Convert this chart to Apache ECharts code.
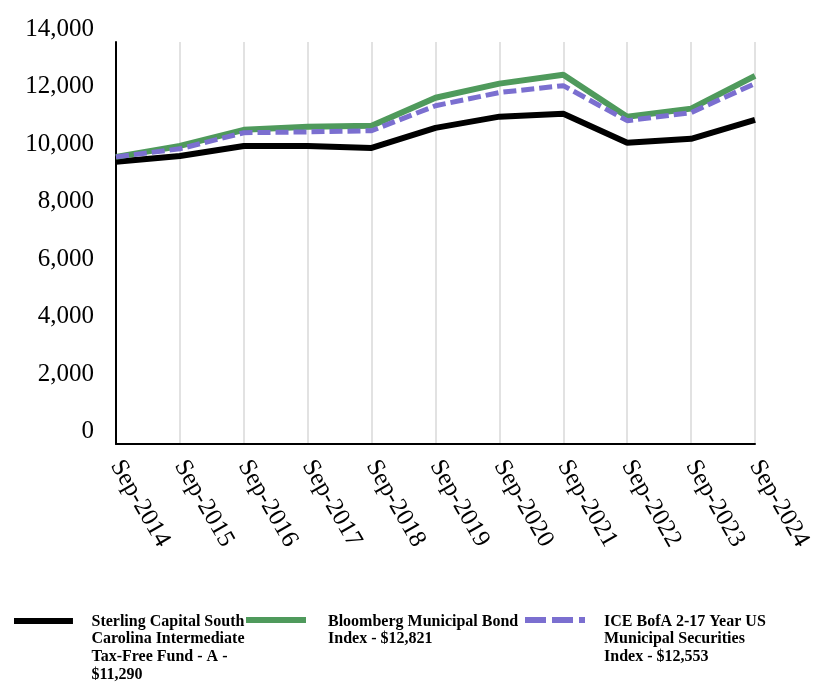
<!DOCTYPE html>
<html>
<head>
<meta charset="utf-8">
<script src="https://cdn.jsdelivr.net/npm/echarts@6/dist/echarts.min.js"></script>
<style>html,body{margin:0;padding:0;background:#fff;}#c{width:828px;height:684px;}</style>
</head>
<body>
<div id="c"></div>
<script>
const categories = ['Sep-2014','Sep-2015','Sep-2016','Sep-2017','Sep-2018','Sep-2019','Sep-2020','Sep-2021','Sep-2022','Sep-2023','Sep-2024'];
const fundName = 'Sterling Capital South Carolina Intermediate Tax-Free Fund - A - $11,290';
const fundValues = [9830, 10030, 10380, 10380, 10310, 11010, 11400, 11500, 10490, 10630, 11290];
const bbgName = 'Bloomberg Municipal Bond Index - $12,821';
const bbgValues = [10000, 10380, 10940, 11050, 11080, 12060, 12550, 12860, 11400, 11680, 12821];
const iceName = 'ICE BofA 2-17 Year US Municipal Securities Index - $12,553';
const iceValues = [10000, 10280, 10840, 10870, 10910, 11780, 12240, 12480, 11260, 11540, 12553];
const legendLines = {};
legendLines[fundName] = ['Sterling Capital South', 'Carolina Intermediate', 'Tax-Free Fund - A -', '$11,290'];
legendLines[bbgName] = ['Bloomberg Municipal Bond', 'Index - $12,821'];
legendLines[iceName] = ['ICE BofA 2-17 Year US', 'Municipal Securities', 'Index - $12,553'];

const FONT = "'Liberation Serif', 'Times New Roman', serif";
const LH = 17.7;
const H = 60;
const TEXT_Y = 621.5;
const ICON_Y = 620;
const chart = echarts.init(document.getElementById('c'), null, {renderer: 'canvas'});

function legendAt(name, left, padLeft, dashed) {
  const n = legendLines[name].length;
  const off = (n - 1) * LH / 2;
  const overflow = Math.max(0, (n * LH - H) / 2);
  const top = TEXT_Y - H / 2 + off;
  const c = ICON_Y - top;
  const y1 = (c - 3).toFixed(2), y2 = (c + 3).toFixed(2);
  let bar;
  if (dashed) {
    bar = `M0,${y1}H21V${y2}H0Z M27,${y1}H48V${y2}H27Z M54,${y1}H60V${y2}H54Z`;
  } else {
    bar = `M0,${y1}H60V${y2}H0Z`;
  }
  return {
    data: [name], left: left, top: top - overflow, padding: 0,
    itemWidth: 60, itemHeight: H, selectedMode: false,
    icon: 'path://M0,0 ' + bar + ' M60,60',
    itemStyle: {borderWidth: 0},
    formatter: nm => legendLines[nm].join('\n'),
    textStyle: {fontFamily: FONT, fontWeight: 'bold', fontSize: 16, color: '#000',
      lineHeight: LH, padding: [0, 0, 0, padLeft]}
  };
}

chart.setOption({
  animation: false,
  backgroundColor: '#fff',
  grid: {left: 116, right: 73, top: 42, bottom: 240, containLabel: false},
  legend: [legendAt(fundName, 14, 13, false), legendAt(bbgName, 246, 17, false), legendAt(iceName, 525, 14, true)],
  xAxis: {
    type: 'category', data: categories, boundaryGap: false,
    axisLine: {lineStyle: {color: '#000', width: 2}},
    axisTick: {show: false},
    splitLine: {show: true, lineStyle: {color: '#d9d9d9', width: 1.5}},
    axisLabel: {rotate: -60, margin: 18, fontFamily: FONT, fontSize: 25, color: '#000'}
  },
  yAxis: {
    type: 'value', min: 0, max: 14000, interval: 2000,
    axisLine: {show: true, lineStyle: {color: '#000', width: 2}},
    axisTick: {show: false},
    splitLine: {show: false},
    axisLabel: {fontFamily: FONT, fontSize: 25, color: '#000', margin: 22, verticalAlign: 'bottom',
      formatter: v => v.toLocaleString('en-US')}
  },
  series: [
    {name: fundName, type: 'line', data: fundValues, symbol: 'none',
      lineStyle: {color: '#000', width: 6}, itemStyle: {color: '#000'}},
    {name: bbgName, type: 'line', data: bbgValues, symbol: 'none',
      lineStyle: {color: '#4f9a5c', width: 6}, itemStyle: {color: '#4f9a5c'}},
    {name: iceName, type: 'line', data: iceValues, symbol: 'none',
      lineStyle: {color: '#7b6fd0', width: 5, type: [13, 5]}, itemStyle: {color: '#7b6fd0'}}
  ]
});
</script>
</body>
</html>
